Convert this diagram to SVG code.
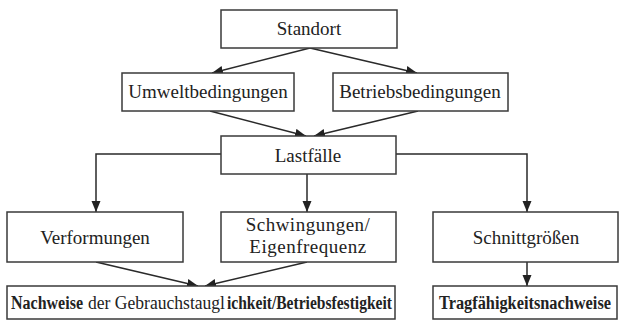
<svg xmlns="http://www.w3.org/2000/svg" width="620" height="328" viewBox="0 0 620 328">
<style>
.box{fill:#fff;stroke:#3a3a3a;stroke-width:1.5}
.t{font-family:"Liberation Serif","Times New Roman",serif;font-size:19px;fill:#222;text-anchor:middle}
.s{font-size:18px;text-anchor:start}
.b{font-weight:bold}
.c{fill:none;stroke:#2a2a2a;stroke-width:1.5}
</style>
<defs>
<marker id="ah" markerUnits="userSpaceOnUse" markerWidth="12" markerHeight="10" refX="11" refY="4.5" orient="auto">
<path d="M0,0 L11,4.5 L0,9 z" fill="#222"/>
</marker>
</defs>
<rect width="620" height="328" fill="#fff"/>
<g id="connectors">
<line class="c" x1="310" y1="48" x2="212" y2="73" marker-end="url(#ah)"/>
<line class="c" x1="310" y1="48" x2="417" y2="73" marker-end="url(#ah)"/>
<line class="c" x1="210" y1="111" x2="306" y2="136" marker-end="url(#ah)"/>
<line class="c" x1="418" y1="111" x2="314" y2="136" marker-end="url(#ah)"/>
<polyline class="c" points="221,154 96,154 96,212" marker-end="url(#ah)"/>
<line class="c" x1="307" y1="174" x2="307" y2="212" marker-end="url(#ah)"/>
<polyline class="c" points="396,154 527,154 527,212" marker-end="url(#ah)"/>
<line class="c" x1="96" y1="262" x2="198" y2="286" marker-end="url(#ah)"/>
<line class="c" x1="307" y1="262" x2="205" y2="286" marker-end="url(#ah)"/>
<line class="c" x1="527" y1="262" x2="527" y2="286" marker-end="url(#ah)"/>
</g>
<g id="standort"><rect class="box" x="221" y="10" width="176" height="38"/><text class="t" x="309" y="35">Standort</text></g>
<g id="umwelt"><rect class="box" x="122" y="73" width="172" height="38"/><text class="t" x="208" y="98">Umweltbedingungen</text></g>
<g id="betrieb"><rect class="box" x="333" y="73" width="175" height="38"/><text class="t" x="420" y="98">Betriebsbedingungen</text></g>
<g id="lastfaelle"><rect class="box" x="221" y="136" width="175" height="38"/><text class="t" x="308" y="162">Lastfälle</text></g>
<g id="verformungen"><rect class="box" x="7" y="212" width="176" height="50"/><text class="t" x="95" y="244">Verformungen</text></g>
<g id="schwingungen"><rect class="box" x="221" y="212" width="175" height="50"/><text class="t" x="308" y="231" letter-spacing="0.5">Schwingungen/</text><text class="t" x="308" y="253" letter-spacing="0.5">Eigenfrequenz</text></g>
<g id="schnitt"><rect class="box" x="433" y="212" width="185" height="50"/><text class="t" x="526" y="244">Schnittgrößen</text></g>
<g id="nachweise"><rect class="box" x="7" y="286" width="388" height="33"/>
<text class="t s b" x="11" y="309" textLength="72" lengthAdjust="spacingAndGlyphs">Nachweise</text>
<text class="t s" x="88" y="309" textLength="137" lengthAdjust="spacingAndGlyphs">der Gebrauchstaugl</text>
<text class="t s b" x="227" y="309" textLength="165" lengthAdjust="spacingAndGlyphs">ichkeit/Betriebsfestigkeit</text>
</g>
<g id="trag"><rect class="box" x="433" y="286" width="184" height="33"/><text class="t s b" x="439" y="309" font-size="15" textLength="172" lengthAdjust="spacingAndGlyphs">Tragfähigkeitsnachweise</text></g>
</svg>
